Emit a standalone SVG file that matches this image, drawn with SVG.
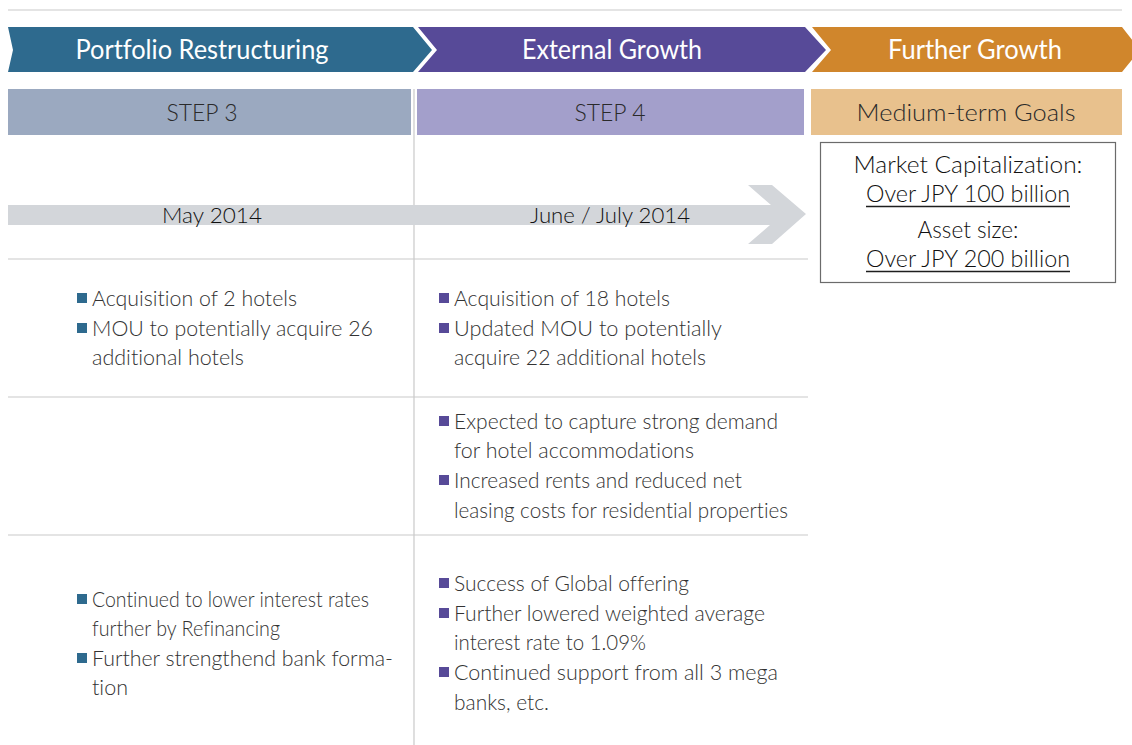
<svg xmlns="http://www.w3.org/2000/svg" width="1132" height="745" viewBox="0 0 1132 745">
<style>
text{font-variant-ligatures:none}
.hd{font-family:Lato,"Liberation Sans",sans-serif;font-size:26px;fill:#ffffff;text-anchor:middle}
.st{font-family:Lato,"Liberation Sans",sans-serif;font-size:23px;font-weight:300;fill:#2a2a2a;text-anchor:middle}
.dt{font-family:Lato,"Liberation Sans",sans-serif;font-size:22px;font-weight:300;fill:#111111;text-anchor:middle}
.gl{font-family:Lato,"Liberation Sans",sans-serif;font-size:23px;font-weight:300;fill:#111111;text-anchor:middle}
.tx{font-family:Lato,"Liberation Sans",sans-serif;font-size:21px;font-weight:300;fill:#333333}
.rule{stroke:#c9c9c9;stroke-width:1.2;fill:none}
.bb{fill:#2e6a8e}
.bp{fill:#574a98}
</style>
<line class="rule" x1="8" y1="10" x2="1122" y2="10"/>
<g id="phase-portfolio">
<path d="M8,27 H413 L432,50 L413,72 H8 L13,50 Z" fill="#2e6a8e"/>
<text class="hd" x="202" y="59" textLength="253" lengthAdjust="spacingAndGlyphs">Portfolio Restructuring</text>
</g>
<g id="phase-external">
<path d="M418,27 H805 L826,50 L805,72 H418 L437,50 Z" fill="#574a98"/>
<text class="hd" x="612" y="59" textLength="180" lengthAdjust="spacingAndGlyphs">External Growth</text>
</g>
<g id="phase-further">
<path d="M812,27 H1122 L1140,50 L1122,72 H812 L831,50 Z" fill="#d0862c"/>
<text class="hd" x="975" y="59" textLength="174" lengthAdjust="spacingAndGlyphs">Further Growth</text>
</g>
<g id="step3">
<rect x="8" y="89" width="403" height="46" fill="#9ba9c0"/>
<text class="st" x="202" y="121" textLength="71" lengthAdjust="spacingAndGlyphs">STEP 3</text>
</g>
<g id="step4">
<rect x="417" y="89" width="387" height="46" fill="#a39fcb"/>
<text class="st" x="610" y="121" textLength="71" lengthAdjust="spacingAndGlyphs">STEP 4</text>
</g>
<g id="medium-term">
<rect x="811" y="89" width="311" height="46" fill="#e8c18d"/>
<text class="st" x="966" y="121" textLength="219" lengthAdjust="spacingAndGlyphs">Medium-term Goals</text>
</g>
<g id="grid">
<line class="rule" x1="414" y1="89" x2="414" y2="745"/>
<line class="rule" x1="8" y1="259" x2="808" y2="259"/>
<line class="rule" x1="8" y1="397" x2="808" y2="397"/>
<line class="rule" x1="8" y1="535" x2="808" y2="535"/>
</g>
<g id="connectors">
<path d="M8,205 H771 L748,185 H772 L806,214 L772,244 H748 L770,225 H8 Z" fill="#d3d6da"/>
</g>
<g id="date-may">
<text class="dt" x="212" y="223" textLength="100" lengthAdjust="spacingAndGlyphs">May 2014</text>
</g>
<g id="date-june">
<text class="dt" x="610" y="223" textLength="160" lengthAdjust="spacingAndGlyphs">June / July 2014</text>
</g>
<g id="goals-box">
<rect x="820.5" y="142.5" width="295" height="140" fill="#ffffff" stroke="#6b6b6b" stroke-width="1.2"/>
<text class="gl" x="968" y="173" textLength="229" lengthAdjust="spacingAndGlyphs">Market Capitalization:</text>
<text class="gl" x="968" y="202" textLength="204" lengthAdjust="spacingAndGlyphs">Over JPY 100 billion</text>
<line x1="866" y1="206.5" x2="1070" y2="206.5" stroke="#1e1e1e" stroke-width="1.3"/>
<text class="gl" x="968" y="238" textLength="101" lengthAdjust="spacingAndGlyphs">Asset size:</text>
<text class="gl" x="968" y="267" textLength="204" lengthAdjust="spacingAndGlyphs">Over JPY 200 billion</text>
<line x1="866" y1="271.5" x2="1070" y2="271.5" stroke="#1e1e1e" stroke-width="1.3"/>
</g>
<g id="step3-acquisitions">
<rect class="bb" x="77" y="293" width="10" height="10"/>
<text class="tx" x="92" y="306" textLength="205" lengthAdjust="spacingAndGlyphs">Acquisition of 2 hotels</text>
<rect class="bb" x="77" y="323" width="10" height="10"/>
<text class="tx" x="92" y="336" textLength="281" lengthAdjust="spacingAndGlyphs">MOU to potentially acquire 26</text>
<text class="tx" x="92" y="365" textLength="152" lengthAdjust="spacingAndGlyphs">additional hotels</text>
</g>
<g id="step3-finance">
<rect class="bb" x="77" y="594" width="10" height="10"/>
<text class="tx" x="92" y="607" textLength="277" lengthAdjust="spacingAndGlyphs">Continued to lower interest rates</text>
<text class="tx" x="92" y="636" textLength="188" lengthAdjust="spacingAndGlyphs">further by Refinancing</text>
<rect class="bb" x="77" y="653" width="10" height="10"/>
<text class="tx" x="92" y="666" textLength="301" lengthAdjust="spacingAndGlyphs">Further strengthend bank forma-</text>
<text class="tx" x="92" y="695" textLength="36" lengthAdjust="spacingAndGlyphs">tion</text>
</g>
<g id="step4-acquisitions">
<rect class="bp" x="439" y="293" width="10" height="10"/>
<text class="tx" x="454" y="306" textLength="216" lengthAdjust="spacingAndGlyphs">Acquisition of 18 hotels</text>
<rect class="bp" x="439" y="323" width="10" height="10"/>
<text class="tx" x="454" y="336" textLength="268" lengthAdjust="spacingAndGlyphs">Updated MOU to potentially</text>
<text class="tx" x="454" y="365" textLength="252" lengthAdjust="spacingAndGlyphs">acquire 22 additional hotels</text>
</g>
<g id="step4-demand">
<rect class="bp" x="439" y="416" width="10" height="10"/>
<text class="tx" x="454" y="429" textLength="324" lengthAdjust="spacingAndGlyphs">Expected to capture strong demand</text>
<text class="tx" x="454" y="458" textLength="240" lengthAdjust="spacingAndGlyphs">for hotel accommodations</text>
<rect class="bp" x="439" y="475" width="10" height="10"/>
<text class="tx" x="454" y="488" textLength="288" lengthAdjust="spacingAndGlyphs">Increased rents and reduced net</text>
<text class="tx" x="454" y="518" textLength="334" lengthAdjust="spacingAndGlyphs">leasing costs for residential properties</text>
</g>
<g id="step4-finance">
<rect class="bp" x="439" y="578" width="10" height="10"/>
<text class="tx" x="454" y="591" textLength="235" lengthAdjust="spacingAndGlyphs">Success of Global offering</text>
<rect class="bp" x="439" y="608" width="10" height="10"/>
<text class="tx" x="454" y="621" textLength="311" lengthAdjust="spacingAndGlyphs">Further lowered weighted average</text>
<text class="tx" x="454" y="650" textLength="192" lengthAdjust="spacingAndGlyphs">interest rate to 1.09%</text>
<rect class="bp" x="439" y="667" width="10" height="10"/>
<text class="tx" x="454" y="680" textLength="324" lengthAdjust="spacingAndGlyphs">Continued support from all 3 mega</text>
<text class="tx" x="454" y="710" textLength="95" lengthAdjust="spacingAndGlyphs">banks, etc.</text>
</g>
</svg>
